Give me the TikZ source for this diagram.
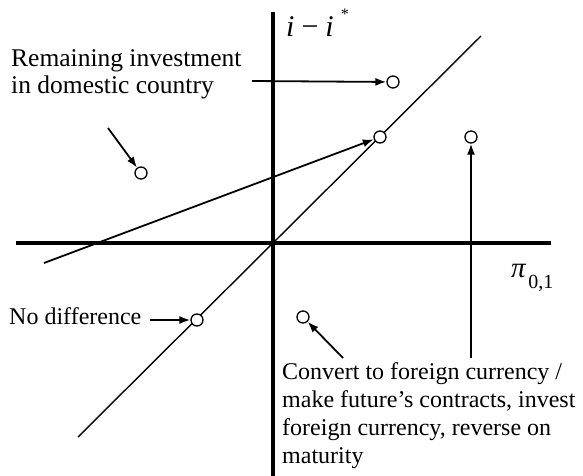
\documentclass[tikz,border=0pt]{standalone}
\usepackage{fontspec}
\setmainfont{Liberation Serif}
\usetikzlibrary{arrows.meta, positioning, calc}

\begin{document}
\begin{tikzpicture}[
  x=1pt, y=-1pt,
  >={Latex[length=11pt,width=8pt]},
  axis/.style={line width=3.6pt},
  ray/.style={line width=1.4pt},
  arr/.style={->, line width=1.8pt},
  dot/.style={circle, draw, line width=1.3pt, fill=white, minimum size=12pt,
              inner sep=0pt},
  lbl/.style={font=\fontsize{24}{28}\selectfont, inner sep=0pt, align=left},
  ]
\useasboundingbox (0,0) rectangle (583,476);
% axes
\coordinate (xl) at (16,243);
\coordinate (xr) at (551,243);
\coordinate (yt) at (273,12);
\coordinate (yb) at (273,476);
\draw[axis] (xl) -- (xr);
\draw[axis] (yt) -- (yb);
% 45 degree line
\coordinate (dlo) at (78,437);
\coordinate (dhi) at (481,36);
\draw[ray] (dlo) -- (dhi);
% points
\node[dot] (pa) at (141,173) {};
\node[dot] (pb) at (393,82) {};
\node[dot] (pc) at (380,137) {};
\node[dot] (pd) at (471,137) {};
\node[dot] (pe) at (197,320) {};
\node[dot] (pf) at (303,317) {};
% axis labels
\node[anchor=base west, inner sep=0pt, font=\fontsize{30}{30}\selectfont]
  (ylab) at (286,37) {\textit{i}\hspace{7pt}−\hspace{7pt}\textit{i}\hspace{7pt}\raisebox{17pt}{\fontsize{16}{16}\selectfont *}};
\node[anchor=base west, inner sep=0pt, font=\fontsize{29}{29}\selectfont]
  (xlab) at (511,277) {\textit{π}\hspace{2pt}\raisebox{-11pt}{\fontsize{20}{20}\selectfont 0,1}};
% texts
\node[lbl, anchor=north west, font=\fontsize{25.5}{27.5}\selectfont] (remain) at (11,49)
  {Remaining investment\\in domestic country};
\node[lbl, anchor=base west] (nodiff) at (9,324) {No difference};
\node[lbl, anchor=north west] (convert) at (282,362)
  {Convert to foreign currency /\\make future’s contracts, invest\\foreign currency, reverse on\\maturity};
% arrows
\coordinate (ra) at (108,128);
\coordinate (rb) at (252,81);
\coordinate (sl) at (44,263);
\coordinate (cf) at (343,358);
\coordinate (cd) at (471,358);
\draw[arr] (ra) -- (pa);
\draw[arr] (rb) -- (pb);
\draw[arr] (sl) -- (pc);
\draw[arr] ([xshift=8pt]nodiff.east |- pe) -- (pe);
\draw[arr] (cf) -- (pf);
\draw[arr] (cd) -- (pd);
\end{tikzpicture}
\end{document}
